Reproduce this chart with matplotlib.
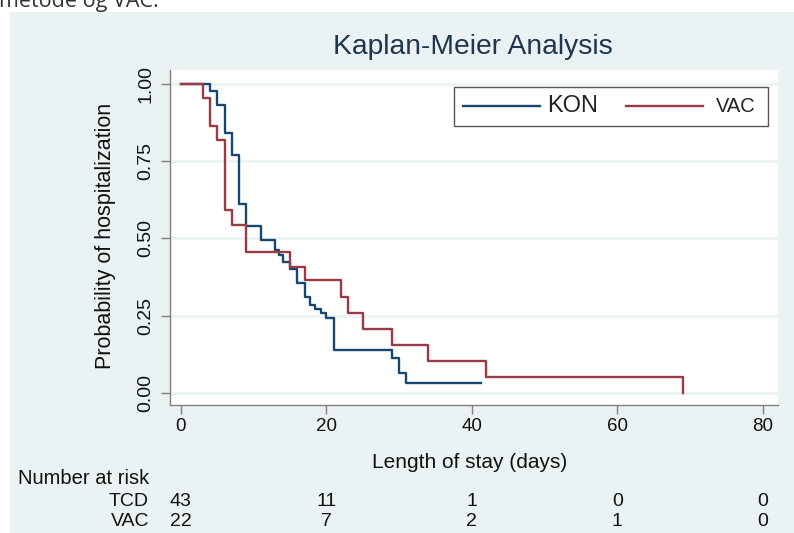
import matplotlib
matplotlib.use("Agg")
import matplotlib.pyplot as plt
from matplotlib.patches import Rectangle
from matplotlib.lines import Line2D
from matplotlib.transforms import blended_transform_factory

# Kaplan-Meier step curves (days, survival after the step)
KON_DAYS = [0, 4, 5, 6, 7, 8, 9, 11, 13, 13.5, 14, 15, 16, 17, 17.8, 18.5, 19.2, 20, 21, 29, 30, 31, 41.3]
KON_SURV = [1.0, 0.977, 0.933, 0.842, 0.770, 0.612, 0.540, 0.495, 0.461, 0.445, 0.423, 0.400,
            0.355, 0.312, 0.285, 0.272, 0.258, 0.242, 0.140, 0.112, 0.065, 0.033, 0.033]

VAC_DAYS = [0, 3, 4, 5, 6, 7, 9, 15, 17, 22, 23, 25, 29, 34, 42, 69]
VAC_SURV = [1.0, 0.955, 0.864, 0.818, 0.591, 0.545, 0.455, 0.409, 0.364, 0.312, 0.260,
            0.208, 0.156, 0.104, 0.052, 0.0]

SERIES = ["KON", "VAC"]

# number-at-risk table
RISK_TIMES = [0, 20, 40, 60, 80]
RISK_GROUPS = ["TCD", "VAC"]
TCD_RISK = [43, 11, 1, 0, 0]
VAC_RISK = [22, 7, 2, 1, 0]

X_TICKS = [0, 20, 40, 60, 80]
Y_TICKS = [0.0, 0.25, 0.5, 0.75, 1.0]

BG = "#EAF2F3"
NAVY = "#1A476F"
MAROON = "#9A3A44"
AXIS_GRAY = "#808080"
INK = "#111111"

plt.rcParams["font.family"] = ["Liberation Sans", "DejaVu Sans"]

W, H = 794, 533
fig = plt.figure(figsize=(W / 100, H / 100), dpi=100, facecolor="white")


def fx(px):
    return px / W


def fy(py):
    return 1 - py / H


# cut-off text from the page above the chart
fig.text(fx(-1), fy(7), "metode og VAC.", family="Open Sans", fontsize=15.5,
         color="#333333", va="baseline", ha="left", zorder=-5)

# Stata style graph region
fig.patches.append(Rectangle((fx(10), 0), fx(W - 10), fy(12), transform=fig.transFigure,
                             facecolor=BG, edgecolor="none", zorder=-10))

ax_l, ax_r, ax_t, ax_b = 170, 778, 70, 405
ax = fig.add_axes([fx(ax_l), fy(ax_b), fx(ax_r - ax_l), (ax_b - ax_t) / H])
ax.set_facecolor("white")

# data ranges so that 0 sits at x=181 px and 80 at x=763 px
ax.set_xlim(-1.5, 82.1)
ax.set_ylim(-0.039, 1.045)

ax.step(KON_DAYS, KON_SURV, where="post", color=NAVY, lw=1.7, zorder=3)
ax.step(VAC_DAYS, VAC_SURV, where="post", color=MAROON, lw=1.7, zorder=4)

for s in ["top", "right"]:
    ax.spines[s].set_visible(False)
for s in ["left", "bottom"]:
    ax.spines[s].set_color(AXIS_GRAY)
    ax.spines[s].set_linewidth(1.0)

ax.set_xticks(X_TICKS)
ax.set_xticklabels([str(t) for t in X_TICKS], fontsize=13.5)
ax.set_yticks(Y_TICKS)
ax.set_yticklabels([f"{t:.2f}" for t in Y_TICKS], fontsize=14, rotation=90, va="center")
ax.tick_params(axis="both", direction="out", length=6.5, width=1.0, color=AXIS_GRAY,
               labelcolor=INK)
ax.tick_params(axis="x", pad=3)
ax.tick_params(axis="y", pad=5)
ax.yaxis.grid(True, color=BG, lw=1.8, zorder=0)
ax.set_axisbelow(True)

# titles
fig.text(fx(473), fy(47), "Kaplan-Meier Analysis", fontsize=20.3, color="#1F3550",
         ha="center", va="center")
fig.text(fx(106), fy(236), "Probability of hospitalization", fontsize=15.5, rotation=90,
         ha="center", va="center", color=INK)
fig.text(fx(470), fy(463), "Length of stay (days)", fontsize=15, ha="center",
         va="center", color=INK)

# legend drawn inside the plot region
def axx(px):
    return (px - ax_l) / (ax_r - ax_l)


def axy(py):
    return (ax_b - py) / (ax_b - ax_t)


ax.add_patch(Rectangle((axx(454), axy(126)), axx(768) - axx(454), axy(87) - axy(126),
                       transform=ax.transAxes, facecolor="white", edgecolor="#555555",
                       lw=1.0, zorder=5))
leg_y = axy(106)
ax.add_line(Line2D([axx(463), axx(540)], [leg_y, leg_y], transform=ax.transAxes,
                   color=NAVY, lw=1.7, zorder=6))
ax.text(axx(547), leg_y, SERIES[0], transform=ax.transAxes, fontsize=17, ha="left",
        va="center", color="#222222", zorder=6)
ax.add_line(Line2D([axx(626), axx(703)], [leg_y, leg_y], transform=ax.transAxes,
                   color=MAROON, lw=1.7, zorder=6))
ax.text(axx(716), leg_y, SERIES[1], transform=ax.transAxes, fontsize=14.5, ha="left",
        va="center", color="#222222", zorder=6)

# number at risk table
tr = blended_transform_factory(ax.transData, fig.transFigure)
fig.text(fx(18), fy(479), "Number at risk", fontsize=14.5, ha="left", va="center",
         color=INK)
for row_y, name, counts in zip([501, 521], RISK_GROUPS, [TCD_RISK, VAC_RISK]):
    fig.text(fx(149), fy(row_y), name, fontsize=14, ha="right", va="center", color=INK)
    for t, n in zip(RISK_TIMES, counts):
        ax.text(t, fy(row_y), str(n), transform=tr, fontsize=14, ha="center",
                va="center", color=INK, clip_on=False)

fig.savefig("out.png", dpi=100, facecolor="white")
